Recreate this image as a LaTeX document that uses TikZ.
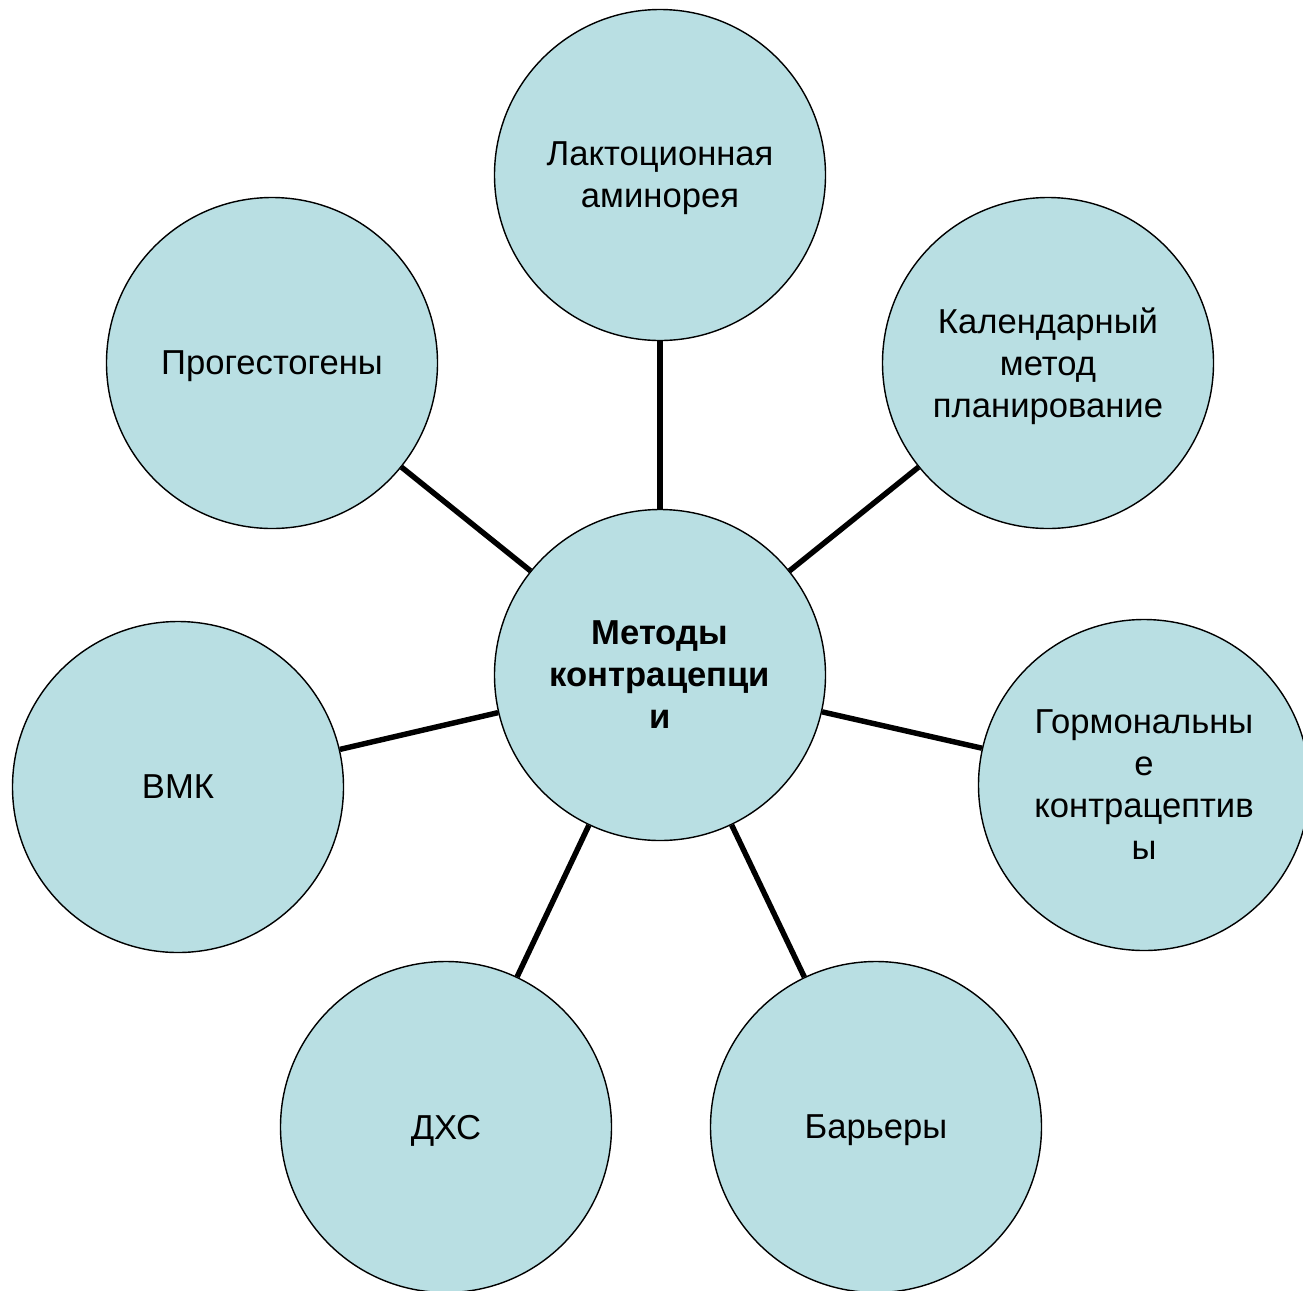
\documentclass[tikz,border=0pt]{standalone}
\usepackage{fontspec}
\setmainfont{Liberation Sans}
\definecolor{azulclaro}{HTML}{B9DFE3}
\tikzset{
    metodo/.style={circle, draw=black, line width=0.8pt, fill=azulclaro,
        minimum size=6.62cm, inner sep=0pt, align=center, text depth=0pt,
        font=\fontsize{19.7}{23.9}\selectfont},
    enlace/.style={line width=3.1pt}
}
\begin{document}
\begin{tikzpicture}
    % Marco de la figura
    \useasboundingbox (0,0) rectangle (26.06,-25.8);

    % Definir coordenadas principales
    \coordinate (M) at (13.2,-13.5);
    \coordinate (L) at (13.2,-3.5);
    \coordinate (K) at (20.96,-7.26);
    \coordinate (G) at (22.88,-15.7);
    \coordinate (B) at (17.52,-22.54);
    \coordinate (D) at (8.92,-22.54);
    \coordinate (V) at (3.56,-15.74);
    \coordinate (P) at (5.44,-7.26);

    % Circulo central
    \node[metodo, font=\fontsize{19.7}{23.9}\selectfont\bfseries] (centro) at (M) {Методы\\контрацепци\\и};

    % Circulos de los metodos
    \node[metodo] (lakt) at (L) {Лактоционная\\аминорея};
    \node[metodo] (kal) at (K) {Календарный\\метод\\планирование};
    \node[metodo] (gorm) at (G) {Гормональны\\е\\контрацептив\\ы};
    \node[metodo] (bar) at (B) {Барьеры};
    \node[metodo] (dhs) at (D) {ДХС};
    \node[metodo] (vmk) at (V) {ВМК};
    \node[metodo] (prog) at (P) {Прогестогены};

    % Lineas desde el centro
    \foreach \m in {lakt,kal,gorm,bar,dhs,vmk,prog}
        \draw[enlace] (centro) -- (\m);

\end{tikzpicture}
\end{document}
